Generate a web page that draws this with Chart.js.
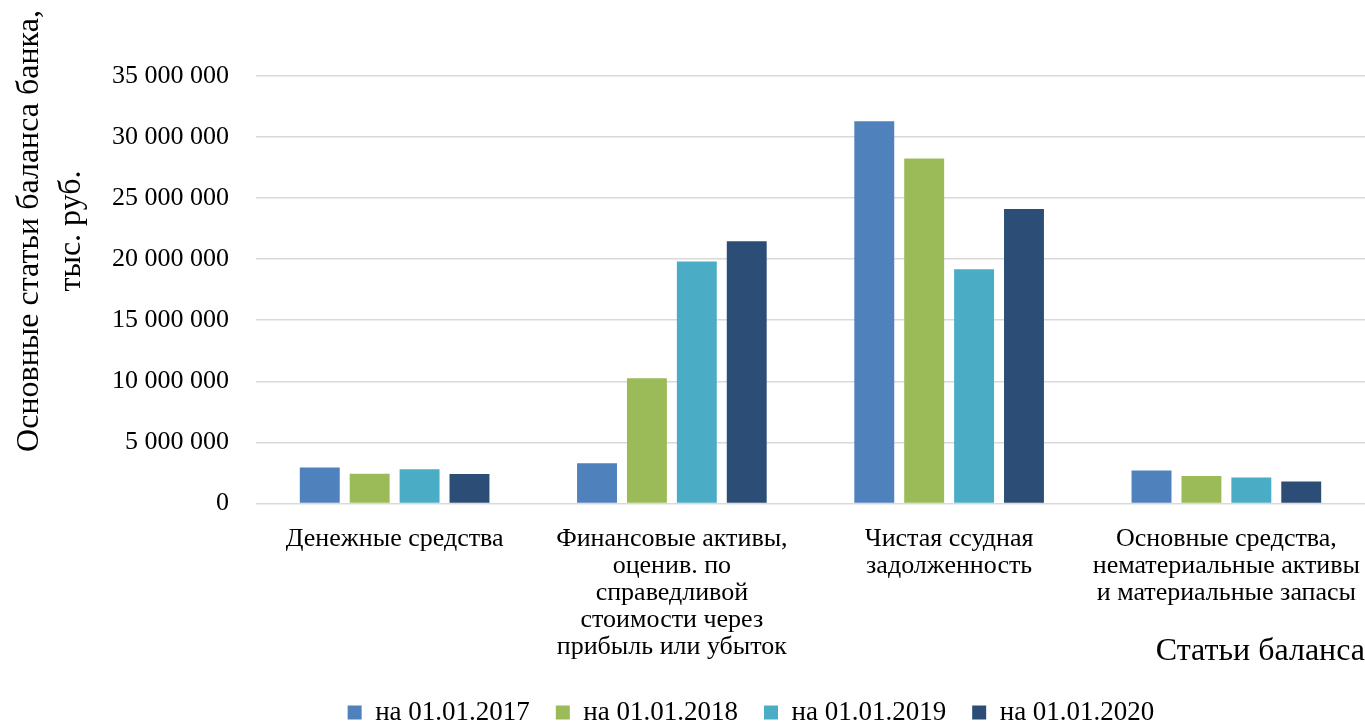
<!DOCTYPE html>
<html>
<head>
<meta charset="utf-8">
<script src="https://cdn.jsdelivr.net/npm/chart.js@4.4.1/dist/chart.umd.min.js"></script>
<style>
  html, body { margin: 0; padding: 0; background: #fff; }
  #wrap { width: 1365px; height: 725px; }
</style>
</head>
<body>
<div id="wrap"><canvas id="balanceChart"></canvas></div>
<script>
// Balance sheet items, thousand rubles
const categories = [
    "Денежные средства",
    ["Финансовые активы,", "оценив. по", "справедливой", "стоимости через", "прибыль или убыток"],
    ["Чистая ссудная", "задолженность"],
    ["Основные средства,", "нематериальные активы", "и материальные запасы"]
];
const seriesNames = ["на 01.01.2017", "на 01.01.2018", "на 01.01.2019", "на 01.01.2020"];
const values2017 = [2950000, 3280000, 31300000, 2700000];
const values2018 = [2430000, 10250000, 28250000, 2240000];
const values2019 = [2790000, 19800000, 19180000, 2130000];
const values2020 = [2400000, 21470000, 24100000, 1800000];
const yTitle = ["Основные статьи баланса банка,", "тыс. руб."];
const xTitle = "Статьи баланса";
const colors = ["#4f81bd", "#9bbb59", "#4bacc6", "#2c4d75"];

const font = "'Liberation Serif', 'Times New Roman', serif";

function fmt(v) {
    return String(v).replace(/\B(?=(\d{3})+(?!\d))/g, " ");
}

// vertical axis title, drawn by hand so it can sit above the plot centre
const yTitlePlugin = {
    id: "yTitle",
    afterLayout(chart) {
        // nudge the legend row a little to the right
        chart.legend.left += 26;
        chart.legend.right += 26;
    },
    afterDraw(chart) {
        const c = chart.ctx;
        const xs = [30, 72];
        c.save();
        c.font = "32px " + font;
        c.fillStyle = "#000";
        c.textAlign = "center";
        c.textBaseline = "middle";
        yTitle.forEach((line, i) => {
            c.save();
            c.translate(xs[i], 231);
            c.rotate(-Math.PI / 2);
            c.fillText(line, 0, 0);
            c.restore();
        });
        c.restore();
    }
};

const ctx = document.getElementById("balanceChart");

new Chart(ctx, {
    type: "bar",
    data: {
        labels: categories,
        datasets: [values2017, values2018, values2019, values2020].map((d, i) => ({
            label: seriesNames[i],
            data: d,
            backgroundColor: colors[i],
            categoryPercentage: 0.72,
            barPercentage: 0.8
        }))
    },
    options: {
        responsive: true,
        maintainAspectRatio: false,
        animation: false,
        layout: { padding: { top: 76, right: 0, left: 85, bottom: -11 } },
        plugins: {
            tooltip: { enabled: false },
            legend: {
                position: "bottom",
                labels: {
                    font: { family: font, size: 27 },
                    color: "#000",
                    boxWidth: 14,
                    boxHeight: 14,
                    padding: 26
                }
            }
        },
        scales: {
            x: {
                grid: { display: false },
                border: { display: false },
                afterFit(scale) {
                    // let the last label run to the edge of the canvas
                    scale.paddingRight = 0;
                },
                ticks: {
                    font: { family: font, size: 26, lineHeight: 1.04 },
                    color: "#000",
                    maxRotation: 0,
                    autoSkip: false,
                    padding: 14
                },
                title: {
                    display: true,
                    text: xTitle,
                    align: "end",
                    font: { family: font, size: 32 },
                    color: "#000",
                    padding: { top: -42, bottom: 2 }
                }
            },
            y: {
                min: 0,
                max: 35000000,
                grid: { color: "#d9d9d9", lineWidth: 1.5, drawTicks: false },
                border: { display: false },
                ticks: {
                    stepSize: 5000000,
                    font: { family: font, size: 26 },
                    color: "#000",
                    padding: 27,
                    callback: v => fmt(v)
                }
            }
        }
    },
    plugins: [yTitlePlugin]
});
</script>
</body>
</html>
